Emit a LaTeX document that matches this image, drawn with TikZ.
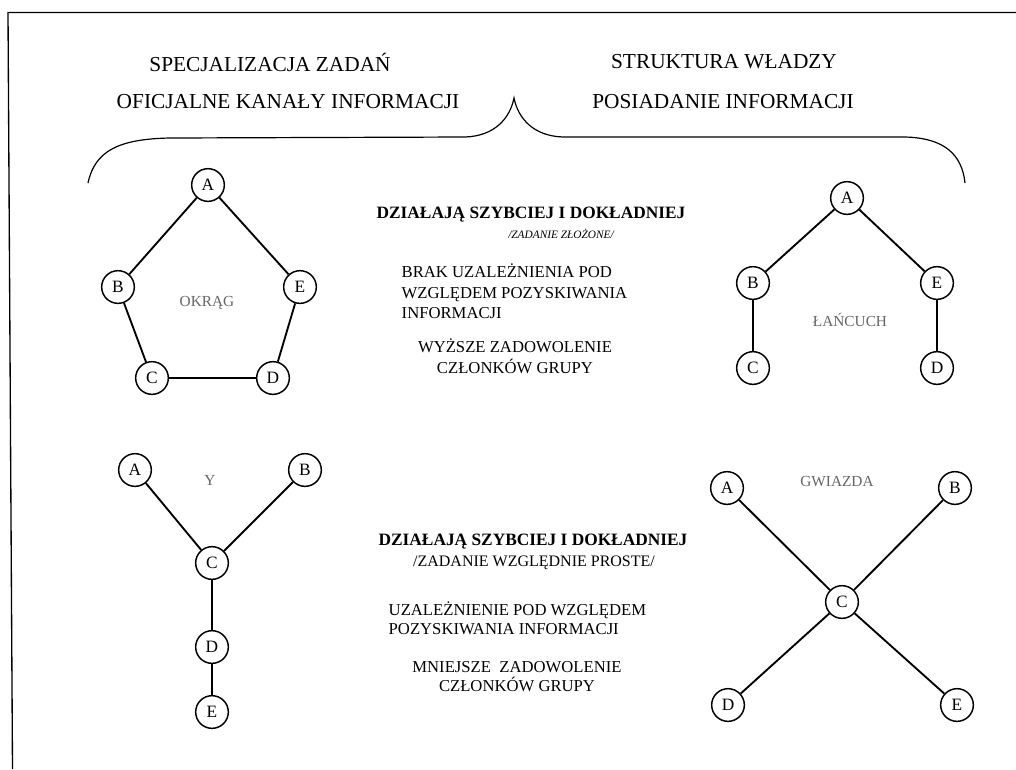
\documentclass[tikz,border=0pt]{standalone}
\usepackage{fontspec}
\setmainfont{Liberation Serif}
\begin{document}
\begin{tikzpicture}[x=0.75pt,y=-0.75pt,
  vert/.style={circle,draw,line width=1.1pt,minimum size=24.5pt,inner sep=0pt,fill=white,font=\fontsize{13}{14}\selectfont},
  link/.style={line width=1.4pt},
  head/.style={font=\fontsize{16}{18}\selectfont},
  lead/.style={font=\bfseries\fontsize{13}{15}\selectfont},
  body/.style={font=\fontsize{12.5}{15.5}\selectfont,align=left},
  bodyc/.style={font=\fontsize{12.5}{15.5}\selectfont,align=center},
  tag/.style={text=black!60,font=\fontsize{11.5}{13}\selectfont}]
\useasboundingbox (0,0) rectangle (1016,769);
\fill[white] (0,0) rectangle (1016,769);
% page frame
\draw[line width=1pt] (12.5,769) -- (8,12.5) -- (1016,12.5);

% headings
\node[head] (h1) at (270,62) {SPECJALIZACJA ZADAŃ};
\node[head] (h2) at (288,102) {OFICJALNE KANAŁY INFORMACJI};
\node[head] (h3) at (724,62) {STRUKTURA WŁADZY};
\node[head] (h4) at (723,102) {POSIADANIE INFORMACJI};

% brace
\draw[line width=0.9pt] (88,183) .. controls (95,150) and (120,139) .. (170,138)
  -- (465,137) .. controls (495,136) and (510,118) .. (514,98)
  .. controls (518,118) and (533,136) .. (563,137)
  -- (905,137) .. controls (945,138) and (962,155) .. (965,183);

% circle network
\node[vert] (oA) at (208,185) {A};
\node[vert] (oB) at (118,287) {B};
\node[vert] (oE) at (300,287) {E};
\node[vert] (oC) at (152,378) {C};
\node[vert] (oD) at (273,378) {D};
\draw[link] (oA) -- (oB) -- (oC) -- (oD) -- (oE) -- (oA);
\node[tag] (okr) at (207,303) {OKRĄG};

% chain network
\node[vert] (cA) at (847,198) {A};
\node[vert] (cB) at (753,283) {B};
\node[vert] (cE) at (937,283) {E};
\node[vert] (cC) at (753,368) {C};
\node[vert] (cD) at (937,368) {D};
\draw[link] (cC) -- (cB) -- (cA) -- (cE) -- (cD);
\node[tag] (lan) at (850,320) {ŁAŃCUCH};

% Y network
\node[vert] (yA) at (135,470) {A};
\node[vert] (yB) at (305,470) {B};
\node[vert] (yC) at (212,563) {C};
\node[vert] (yD) at (212,647) {D};
\node[vert] (yE) at (212,712) {E};
\draw[link] (yA) -- (yC) -- (yB);
\draw[link] (yC) -- (yD) -- (yE);
\node[tag] (ylab) at (210,480) {Y};

% star network
\node[vert] (sA) at (727,488) {A};
\node[vert] (sB) at (955,488) {B};
\node[vert] (sC) at (842,602) {C};
\node[vert] (sD) at (728,705) {D};
\node[vert] (sE) at (957,705) {E};
\draw[link] (sA) -- (sC) -- (sE);
\draw[link] (sB) -- (sC) -- (sD);
\node[tag] (gw) at (837,482) {GWIAZDA};

% upper description
\node[lead] (t1) at (531,215) {DZIAŁAJĄ SZYBCIEJ I DOKŁADNIEJ};
\node[font=\itshape\fontsize{8.5}{10}\selectfont] (t2) at (561,234) {/ZADANIE ZŁOŻONE/};
\node[body,anchor=north west] (t3) at (397,259) {BRAK UZALEŻNIENIA POD\\WZGLĘDEM POZYSKIWANIA\\INFORMACJI};
\node[bodyc,anchor=north] (t4) at (515,334) {WYŻSZE ZADOWOLENIE\\CZŁONKÓW GRUPY};

% lower description
\node[lead] (u1) at (533,542) {DZIAŁAJĄ SZYBCIEJ I DOKŁADNIEJ};
\node[font=\fontsize{12}{14}\selectfont] (u2) at (534,563) {/ZADANIE WZGLĘDNIE PROSTE/};
\node[body,anchor=north west] (u3) at (384,597) {UZALEŻNIENIE POD WZGLĘDEM\\[-1.5pt]POZYSKIWANIA INFORMACJI};
\node[bodyc,anchor=north] (u4) at (517,657) {MNIEJSZE~ ZADOWOLENIE\\[-1.5pt]CZŁONKÓW GRUPY};
\end{tikzpicture}
\end{document}
